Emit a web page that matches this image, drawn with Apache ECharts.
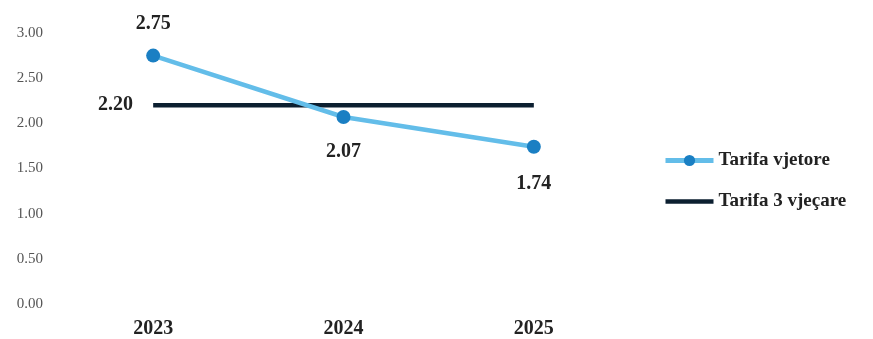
<!DOCTYPE html>
<html><head><meta charset="utf-8">
<script src="https://cdn.jsdelivr.net/npm/echarts@6/dist/echarts.min.js"></script>
<style>html,body{margin:0;padding:0;background:#fff}#c{width:873px;height:339px}</style>
</head><body><div id="c"></div>
<script>
const categories = ['2023', '2024', '2025'];
const annualTariff = [2.75, 2.07, 1.74];
const threeYearTariff = [2.20, 2.20, 2.20];
const yTicks = [0, 0.5, 1, 1.5, 2, 2.5, 3];
const seriesNames = ['Tarifa vjetore', 'Tarifa 3 vjeçare'];

const chart = echarts.init(document.getElementById('c'));
const serif = '"Liberation Serif", "DejaVu Serif", serif';
const labelFont = { fontFamily: serif, fontSize: 20, fontWeight: 'bold', color: '#222' };
chart.setOption({
  backgroundColor: '#fff',
  animation: false,
  grid: { left: 58, right: 244, top: 33, bottom: 34 },
  legend: {
    orient: 'vertical', left: 658, top: 146, itemGap: 22,
    itemWidth: 48, itemHeight: 14,
    textStyle: { fontFamily: serif, fontSize: 19, fontWeight: 'bold', color: '#222' },
    data: [
      { name: seriesNames[0], lineStyle: { width: 5 } },
      { name: seriesNames[1], icon: 'path://M0,0 L48,0 L48,4.5 L0,4.5 Z', itemStyle: { color: '#0c1f30' } }
    ]
  },
  xAxis: {
    type: 'category', data: categories, boundaryGap: true,
    axisLine: { show: false }, axisTick: { show: false },
    axisLabel: { margin: 15, fontFamily: serif, fontSize: 20, fontWeight: 'bold', color: '#222' }
  },
  yAxis: {
    type: 'value', min: yTicks[0], max: yTicks[yTicks.length - 1], interval: 0.5,
    splitLine: { show: false }, axisLine: { show: false }, axisTick: { show: false },
    axisLabel: { margin: 15, fontFamily: serif, fontSize: 15, color: '#555',
      formatter: v => v.toFixed(2) }
  },
  series: [
    {
      name: seriesNames[0], type: 'line', z: 3,
      symbol: 'circle', symbolSize: 14,
      lineStyle: { color: '#63bde9', width: 4.5 },
      itemStyle: { color: '#1a7fc3' },
      label: Object.assign({ show: true, formatter: p => p.value.toFixed(2) }, labelFont),
      data: annualTariff.map((v, i) => ({
        value: v,
        label: i === 0 ? { position: 'top', distance: 15 } : { position: 'bottom', distance: i === 2 ? 20 : 18 }
      }))
    },
    {
      name: seriesNames[1], type: 'line', z: 2,
      symbol: 'circle', symbolSize: 0.1, showSymbol: true,
      lineStyle: { color: '#0c1f30', width: 4.5 },
      itemStyle: { color: '#0c1f30' },
      data: threeYearTariff.map((v, i) => ({
        value: v,
        label: i === 0 ? Object.assign({ show: true, position: 'left', distance: 20,
          formatter: p => p.value.toFixed(2) }, labelFont) : { show: false }
      }))
    }
  ]
});
</script></body></html>
